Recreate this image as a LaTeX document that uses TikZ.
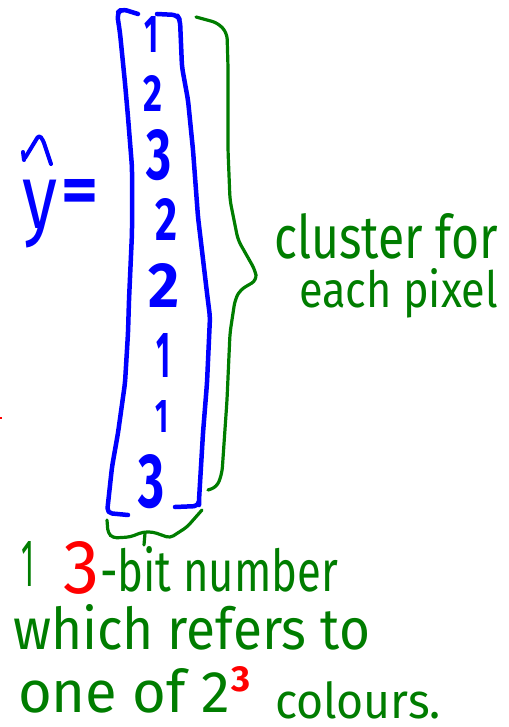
\documentclass[tikz,border=0pt]{standalone}
\usepackage{fontspec}
\setmainfont{Fira Sans}[Numbers=Proportional]
\usepackage{graphicx}
\definecolor{inkblue}{RGB}{0,0,255}
\definecolor{inkgreen}{RGB}{0,125,0}
\definecolor{inkred}{RGB}{255,0,0}
\tikzset{
  txt/.style={inner sep=0pt, outer sep=0pt, anchor=base west},
  digit/.style={txt, text=inkblue, font=\bfseries},
  bstroke/.style={draw=inkblue, line width=4.5pt, line cap=round, line join=round, rounded corners=5pt},
  gstroke/.style={draw=inkgreen, line width=3.2pt, line cap=round, line join=round, rounded corners=6pt},
}
\newcommand\fitto[3]{\resizebox{#1pt}{#2pt}{#3}}
\newcommand\fittot[3]{\resizebox*{#1pt}{#2pt}{#3}}
\begin{document}
\begin{tikzpicture}[x=1pt,y=-1pt]
\useasboundingbox (0,0) rectangle (508,727);

% y-hat =
\node[txt, anchor=north west, text=inkblue] (yvar) at (23,180) {\fittot{35}{68}{y}};
\draw[bstroke, line width=4pt, rounded corners=2pt] (23,152) -- (24,160);
\draw[bstroke, line width=4pt, rounded corners=3pt] (25,158) -- (39,135) -- (43,140) -- (51,164);
\node[txt, text=inkblue, font=\bfseries] (eq) at (61,213) {\fitto{37}{34}{=}};

% blue brackets
\draw[bstroke] (138,14) -- (122,9) -- (117,13) -- (120,33) -- (125,83) -- (128,117) -- (132,167) -- (132,233) -- (129,300) -- (128,333) -- (125,383) -- (118,433) -- (112,467) -- (107,513) -- (128,515);
\draw[bstroke] (157,14) -- (177,15) -- (180,20) -- (182,67) -- (188,100) -- (193,150) -- (198,217) -- (207,293) -- (210,317) -- (207,383) -- (203,433) -- (199,500) -- (199,506) -- (175,507);

% entries
\node[digit] (e1) at (144,53) {\fitto{14}{36}{1}};
\node[digit] (e2) at (143,112) {\fitto{19}{36}{2}};
\node[digit] (e3) at (146,180) {\fitto{25}{50}{3}};
\node[digit] (e4) at (155,240) {\fitto{22}{42}{2}};
\node[digit] (e5) at (148,307) {\fitto{31}{44}{2}};
\node[digit] (e6) at (156,377) {\fitto{14}{44}{1}};
\node[digit] (e7) at (155,432) {\fitto{13}{32}{1}};
\node[digit] (e8) at (138,507) {\fitto{26}{53}{3}};

% green braces
\draw[gstroke] (196,17) -- (218,23) -- (227,33) -- (228,67) -- (228,150) -- (230,200) -- (238,240) -- (255,270) -- (257,280) -- (240,290) -- (235,300) -- (230,333) -- (227,400) -- (222,473) -- (217,487) -- (208,490);
\draw[gstroke, rounded corners=4pt] (107,520) -- (108,533) -- (113,538) -- (130,537) -- (143,532) -- (153,532) -- (170,538) -- (187,527) -- (202,510);
\draw[gstroke] (145,533) -- (144,545);

% labels
\node[txt, text=inkgreen] (cl1) at (274,258) {\fitto{224}{45}{cluster for}};
\node[txt, text=inkgreen] (cl2) at (299,307) {\fitto{199}{39}{each pixel}};

\node[txt, text=inkgreen] (b1) at (21,586) {\fitto{13}{45}{1}};
\node[txt, text=inkred] (b3) at (63,593) {\fitto{36}{52}{3}};
\node[txt, text=inkgreen] (b4) at (100,591) {\fitto{238}{45}{-bit number}};
\node[txt, text=inkgreen] (b5) at (13,649) {\fitto{357}{45}{which refers to}};
\node[txt, text=inkgreen] (b6) at (18,712) {\fitto{212}{44}{one of 2}};
\node[txt, text=inkred, font=\bfseries] (b7) at (231,691) {\fitto{19}{25}{3}};
\node[txt, text=inkgreen] (b8) at (275,718) {\fitto{166}{37}{colours.}};

% small red mark at left edge
\draw[draw=inkred, line width=1.5pt] (0,418) -- (2,418);
\end{tikzpicture}
\end{document}
